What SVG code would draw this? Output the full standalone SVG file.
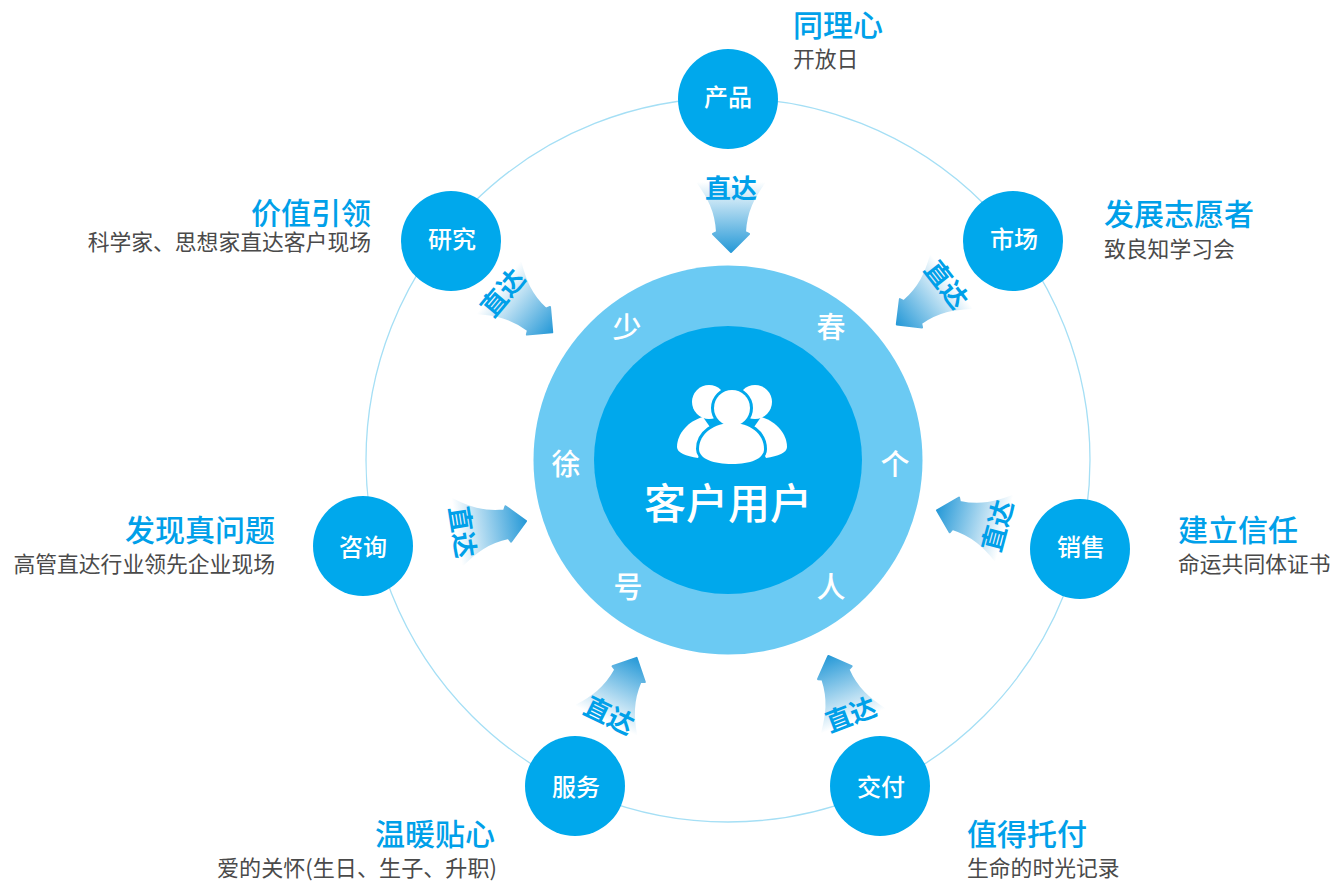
<svg xmlns="http://www.w3.org/2000/svg" width="1334" height="882" viewBox="0 0 1334 882">
<style>
text{font-family:"Noto Sans CJK SC","Liberation Sans",sans-serif}
.node{fill:#00a8ec}
.nl{fill:#fff;font-size:24px;font-weight:500;text-anchor:middle}
.t{fill:#00a0e9;font-size:30px;font-weight:500}
.s{fill:#4a4a4a;font-size:21.800px}
.e{text-anchor:end}
.r{fill:#fff;font-size:29px;font-weight:500;text-anchor:middle}
.a{fill:#00a0e9;font-size:26px;font-weight:700;text-anchor:middle}
.arrow{fill:url(#g);stroke:url(#g);stroke-width:2;stroke-linejoin:round}
</style>
<defs>
<linearGradient id="g" gradientUnits="userSpaceOnUse" x1="0" y1="-71" x2="0" y2="-2">
<stop offset="0" stop-color="#fff"/><stop offset="1" stop-color="#2a9bd8"/>
</linearGradient>
<path id="ar" class="arrow" d="M-33,-70 L33,-70 C23,-56 15,-42 14,-21 L18,-19 L0,-1 L-18,-19 L-14,-21 C-15,-42 -23,-56 -33,-70 Z"/>
<g id="cp"><circle cx="732" cy="408" r="18"/><path d="M699,449 C699,433 715,423 732,423 C749,423 764,433 764,449 C764,459 750,464 732,464 C714,464 699,459 699,449 Z"/></g>
</defs>
<rect width="1334" height="882" fill="#fff"/>
<g id="connectors">
<circle cx="728" cy="460" r="362" fill="none" stroke="#a5dff5" stroke-width="1.300"/>
<use href="#ar" transform="translate(731,253)"/>
<use href="#ar" transform="translate(896,325) rotate(52)"/>
<use href="#ar" transform="translate(553,333) rotate(-50)"/>
<use href="#ar" transform="translate(527,521) rotate(-99)"/>
<use href="#ar" transform="translate(936,510) rotate(105)"/>
<use href="#ar" transform="translate(637,657) rotate(-154)"/>
<use href="#ar" transform="translate(828,655) rotate(159)"/>
<text class="a" transform="translate(731,198)">直达</text>
<text class="a" transform="translate(946,285) rotate(52) translate(0,9)">直达</text>
<text class="a" transform="translate(503,293) rotate(-50) translate(0,9)">直达</text>
<text class="a" transform="translate(462,532) rotate(81) translate(0,9)">直达</text>
<text class="a" transform="translate(998,526) rotate(-75) translate(0,9)">直达</text>
<text class="a" transform="translate(609,716) rotate(26) translate(0,9)">直达</text>
<text class="a" transform="translate(851,715) rotate(-21) translate(0,9)">直达</text>
</g>
<g id="core">
<circle cx="728" cy="460" r="194.500" fill="#6bcaf3"/>
<circle cx="728" cy="460" r="134" fill="#00a8ec"/>
<text class="r" x="627" y="338">少</text>
<text class="r" x="831" y="338">春</text>
<text class="r" x="566" y="475">徐</text>
<text class="r" x="895" y="475">个</text>
<text class="r" x="628" y="598">号</text>
<text class="r" x="831" y="598">人</text>
<g fill="#fff">
<circle cx="709" cy="402" r="17"/><circle cx="755" cy="402" r="17"/>
<path d="M703,417 C688,421 677,434 677,447 C677,453 686,456 698,458 L712,430 Z"/>
<path d="M761,417 C776,421 787,434 787,447 C787,453 778,456 766,458 L752,430 Z"/>
<use href="#cp" stroke="#00a8ec" stroke-width="6" stroke-linejoin="round"/>
<use href="#cp"/>
</g>
<text x="728" y="519" fill="#fff" font-size="42" font-weight="500" text-anchor="middle">客户用户</text>
</g>
<g id="node-product"><circle class="node" cx="728" cy="99" r="50"/><text class="nl" x="728" y="106">产品</text>
<text class="t" x="793" y="36">同理心</text><text class="s" x="793" y="67">开放日</text></g>
<g id="node-market"><circle class="node" cx="1013" cy="241" r="50"/><text class="nl" x="1014" y="248">市场</text>
<text class="t" x="1104" y="225">发展志愿者</text><text class="s" x="1104" y="257">致良知学习会</text></g>
<g id="node-research"><circle class="node" cx="451" cy="241" r="50"/><text class="nl" x="452" y="248">研究</text>
<text class="t e" x="371" y="224">价值引领</text><text class="s e" x="371" y="250">科学家、思想家直达客户现场</text></g>
<g id="node-consult"><circle class="node" cx="363" cy="546" r="50"/><text class="nl" x="363" y="556">咨询</text>
<text class="t e" x="275" y="541">发现真问题</text><text class="s e" x="275" y="572">高管直达行业领先企业现场</text></g>
<g id="node-sales"><circle class="node" cx="1080" cy="549" r="50"/><text class="nl" x="1081" y="556">销售</text>
<text class="t" x="1178" y="541">建立信任</text><text class="s" x="1178" y="572">命运共同体证书</text></g>
<g id="node-service"><circle class="node" cx="575" cy="786" r="50"/><text class="nl" x="576" y="796">服务</text>
<text class="t e" x="495" y="845">温暖贴心</text><text class="s e" x="497" y="876" style="font-size:22.100px">爱的关怀(生日、生子、升职)</text></g>
<g id="node-delivery"><circle class="node" cx="880" cy="786" r="50"/><text class="nl" x="881" y="796">交付</text>
<text class="t" x="967" y="845">值得托付</text><text class="s" x="967" y="876">生命的时光记录</text></g>
</svg>
